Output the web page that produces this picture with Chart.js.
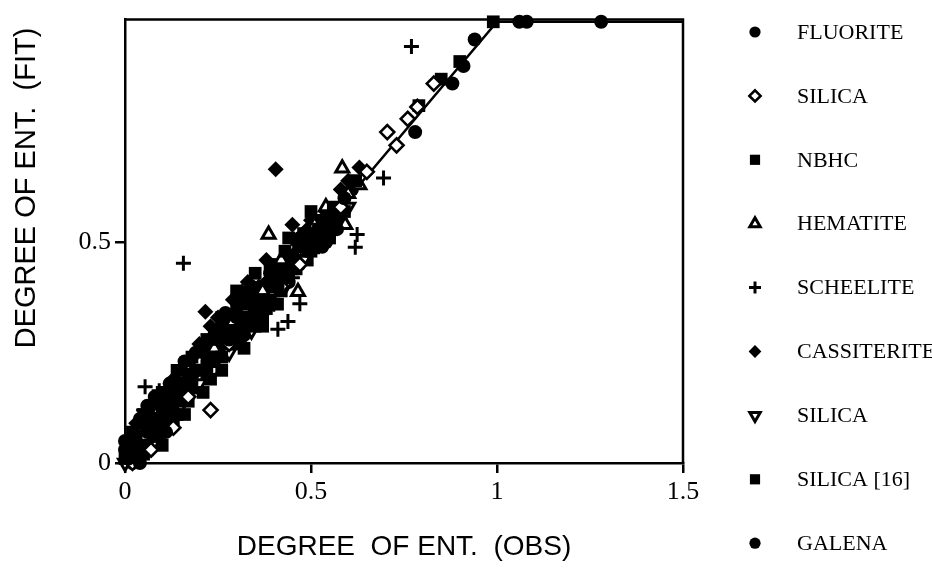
<!DOCTYPE html>
<html>
<head>
<meta charset="utf-8">
<script src="https://cdn.jsdelivr.net/npm/chart.js@4.4.1/dist/chart.umd.min.js"></script>
<style>
  body { margin: 0; background: #fff; }
  #wrap { width: 932px; height: 569px; position: relative; }
</style>
</head>
<body>
<div id="wrap"><canvas id="chart"></canvas></div>
<script>
// DATA  (x = degree of ent. observed, y = degree of ent. fitted)
const xTicks = [0, 0.5, 1, 1.5];
const yTicks = [0, 0.5];

const fluorite = [[0.01,0.01],[0.03,0.02],[0.06,0.07],[0.10,0.11],[0.15,0.17],[0.21,0.26],[0.26,0.31],[0.30,0.33],
  [0.35,0.36],[0.39,0.43],[0.45,0.47],[0.50,0.52],[0.52,0.50],[0.55,0.55],[0.59,0.60],[0.78,0.75],[0.88,0.86],[0.91,0.90],[0.94,0.96],
  [0.0,0.03],[0.02,0.06],[0.04,0.00],[0.08,0.10],[0.11,0.07],[0.13,0.15],[0.17,0.20],[0.23,0.23],[0.28,0.28],[0.32,0.29],
  [0.37,0.34],[0.41,0.40],[0.47,0.51],[0.51,0.49],[0.53,0.52],[0.54,0.50],[0.57,0.53],
  [0.04,0.10],[0.06,0.13],[0.08,0.15],[0.12,0.18],[0.16,0.23],[0.19,0.25],[0.24,0.29],[0.27,0.34],[0.31,0.37],[0.34,0.40]];
const silica = [[0.23,0.12],[0.13,0.08],[0.705,0.75],[0.786,0.807],[0.83,0.86],[0.02,0.0],[0.07,0.03],[0.17,0.15],
  [0.28,0.27],[0.42,0.40],[0.47,0.45],[0.58,0.58],[0.65,0.66],[0.73,0.72],[0.76,0.78]];
const nbhc = [[0.99,1.0],[0.90,0.91],[0.0,0.01],[0.02,0.04],[0.04,0.03],[0.08,0.09],[0.11,0.13],[0.14,0.14],[0.18,0.19],
  [0.22,0.22],[0.27,0.29],[0.31,0.30],[0.34,0.32],[0.36,0.37],[0.38,0.35],[0.41,0.42],[0.44,0.43],[0.47,0.49],
  [0.50,0.48],[0.53,0.55],[0.57,0.56],[0.62,0.64],
  [0.01,0.02],[0.03,0.05],[0.05,0.02],[0.06,0.08],[0.09,0.06],[0.10,0.12],[0.13,0.10],[0.15,0.18],[0.17,0.14],[0.20,0.21],
  [0.23,0.19],[0.24,0.28],[0.26,0.24],[0.29,0.27],[0.30,0.35],[0.33,0.36],[0.35,0.31],[0.37,0.33],[0.39,0.37],[0.42,0.39],
  [0.43,0.48],[0.46,0.44],[0.48,0.52],[0.51,0.50],[0.52,0.53],[0.55,0.51],[0.56,0.58],[0.59,0.57],
  [0.05,0.11],[0.10,0.16],[0.14,0.21],[0.18,0.24],[0.22,0.28],[0.26,0.33],[0.30,0.39],[0.35,0.43],[0.39,0.45],
  [0.44,0.51],[0.50,0.57],[0.21,0.16],[0.26,0.21],[0.32,0.26],[0.37,0.31],[0.41,0.36],[0.10,0.04],[0.16,0.11]];
const hematite = [[0.386,0.518],[0.584,0.668],[0.592,0.540],[0.465,0.388],[0.02,0.03],[0.05,0.06],[0.09,0.12],[0.12,0.14],
  [0.16,0.20],[0.20,0.23],[0.24,0.26],[0.29,0.32],[0.32,0.35],[0.37,0.39],[0.42,0.46],[0.46,0.48],[0.51,0.54],
  [0.54,0.58],[0.60,0.61],[0.63,0.63]];
const scheelite = [[0.77,0.944],[0.695,0.646],[0.624,0.518],[0.619,0.489],[0.157,0.453],[0.470,0.361],[0.438,0.321],
  [0.411,0.303],[0.054,0.173],[0.092,0.164],[0.01,0.05],[0.03,0.08],[0.05,0.12],[0.07,0.10],[0.09,0.07],[0.13,0.12],
  [0.18,0.16],[0.25,0.24],[0.33,0.31],[0.40,0.36],[0.45,0.42],[0.52,0.49]];
const cassiterite = [[0.405,0.666],[0.216,0.343],[0.314,0.388],[0.25,0.33],[0.29,0.37],[0.36,0.40],[0.02,0.02],[0.06,0.05],
  [0.10,0.09],[0.14,0.16],[0.19,0.22],[0.23,0.25],[0.27,0.30],[0.32,0.33],[0.38,0.41],[0.44,0.47],[0.49,0.53],
  [0.54,0.57],[0.58,0.62],[0.63,0.67],
  [0.01,0.04],[0.04,0.06],[0.07,0.11],[0.08,0.07],[0.12,0.15],[0.16,0.19],[0.18,0.17],[0.21,0.24],[0.25,0.27],[0.28,0.33],
  [0.30,0.31],[0.34,0.38],[0.37,0.36],[0.40,0.44],[0.42,0.43],[0.46,0.50],[0.50,0.55],[0.52,0.51],[0.56,0.55],[0.60,0.64],
  [0.03,0.09],[0.09,0.14],[0.13,0.19],[0.20,0.27],[0.23,0.31],[0.33,0.41],[0.38,0.46],[0.45,0.54]];
const silicaInv = [[0.0,0.0],[0.03,0.01],[0.06,0.04],[0.08,0.05],[0.11,0.08],[0.15,0.13],[0.20,0.18],[0.24,0.21],
  [0.28,0.25],[0.34,0.30],[0.39,0.38],[0.43,0.40],[0.48,0.46],[0.52,0.51],[0.56,0.54],[0.60,0.58]];
const silica16 = [[0.01,0.03],[0.04,0.01],[0.07,0.08],[0.12,0.11],[0.17,0.18],[0.22,0.20],[0.26,0.27],[0.31,0.28],
  [0.35,0.34],[0.40,0.39],[0.45,0.44],[0.50,0.50],[0.55,0.52],[0.79,0.81],[0.85,0.87],
  [0.02,0.07],[0.05,0.09],[0.06,0.03],[0.09,0.10],[0.11,0.16],[0.14,0.11],[0.16,0.16],[0.19,0.17],[0.21,0.25],[0.24,0.23],
  [0.29,0.30],[0.33,0.33],[0.38,0.38],[0.41,0.44],[0.46,0.47],[0.49,0.46],[0.52,0.55]];
const galena = [[1.06,1.0],[1.08,1.0],[1.28,1.0],[0.02,0.0],[0.05,0.04],[0.12,0.10],[0.19,0.21],[0.33,0.34],
  [0.43,0.45],[0.48,0.50],[0.56,0.53],[0.61,0.62],
  [0.0,0.05],[0.03,0.03],[0.07,0.06],[0.09,0.13],[0.14,0.12],[0.16,0.15],[0.22,0.21],[0.27,0.26],[0.31,0.32],[0.36,0.35],
  [0.40,0.39],[0.44,0.41],[0.49,0.48],[0.53,0.49],[0.55,0.53],[0.58,0.55]];
const fitLine = [[0,0],[1,1],[1.5,1]];

const seriesNames = ["FLUORITE", "SILICA", "NBHC", "HEMATITE", "SCHEELITE", "CASSITERITE", "SILICA", "SILICA [16]", "GALENA"];
const seriesData = [fluorite, silica, nbhc, hematite, scheelite, cassiterite, silicaInv, silica16, galena];

// marker looks, one per series
const styles = [
  { pointStyle: "circle", radius: 7, fill: "#000", bw: 0, rot: 0 },
  { pointStyle: "rectRot", radius: 7, fill: "#fff", bw: 2.6, rot: 0 },
  { pointStyle: "rect", radius: 9, fill: "#000", bw: 0, rot: 0 },
  { pointStyle: "triangle", radius: 7.5, fill: "#fff", bw: 3, rot: 0 },
  { pointStyle: "cross", radius: 7.5, fill: "#000", bw: 3, rot: 0 },
  { pointStyle: "rectRot", radius: 8, fill: "#000", bw: 0, rot: 0 },
  { pointStyle: "triangle", radius: 7.5, fill: "#fff", bw: 3, rot: 180 },
  { pointStyle: "rect", radius: 9, fill: "#000", bw: 0, rot: 0 },
  { pointStyle: "circle", radius: 7, fill: "#000", bw: 0, rot: 0 }
];

const toXY = arr => arr.map(p => ({ x: p[0], y: p[1] }));

const datasets = seriesData.map((d, i) => ({
  type: "scatter",
  label: seriesNames[i],
  data: toXY(d),
  pointStyle: styles[i].pointStyle,
  pointRadius: styles[i].radius,
  pointRotation: styles[i].rot,
  pointBackgroundColor: styles[i].fill,
  pointBorderColor: "#000",
  pointBorderWidth: styles[i].bw,
  clip: false
}));

datasets.push({
  type: "line",
  label: "fit",
  data: toXY(fitLine),
  borderColor: "#000",
  borderWidth: 2.5,
  pointRadius: 0,
  fill: false,
  clip: false,
  order: 10
});

const serif = "'Liberation Serif', 'Times New Roman', serif";
const sans = "'Liberation Sans', Arial, sans-serif";

// top + right border of the box
const boxPlugin = {
  id: "box",
  beforeDatasetsDraw(chart) {
    const { ctx, chartArea: a } = chart;
    ctx.save();
    ctx.strokeStyle = "#000";
    ctx.lineWidth = 2.5;
    ctx.beginPath();
    ctx.moveTo(a.left, a.top);
    ctx.lineTo(a.right, a.top);
    ctx.lineTo(a.right, a.bottom);
    ctx.stroke();
    ctx.restore();
  }
};

// legend column on the right
const legendPlugin = {
  id: "sideLegend",
  afterDraw(chart) {
    const ctx = chart.ctx;
    ctx.save();
    ctx.font = "22px " + serif;
    ctx.textBaseline = "middle";
    ctx.textAlign = "left";
    seriesNames.forEach((name, i) => {
      const y = 32 + i * 63.9;
      const s = styles[i];
      ctx.fillStyle = s.fill;
      ctx.strokeStyle = "#000";
      ctx.lineWidth = s.bw;
      Chart.helpers.drawPoint(ctx, {
        pointStyle: s.pointStyle, radius: s.radius * 0.8, rotation: s.rot, borderWidth: s.bw
      }, 755, y);
      ctx.fillStyle = "#000";
      ctx.fillText(name, 797, y + 1);
    });
    ctx.restore();
  }
};

const ctx = document.getElementById("chart").getContext("2d");

const chart = new Chart(ctx, {
  data: { datasets: datasets },
  options: {
    responsive: true,
    maintainAspectRatio: false,
    animation: false,
    layout: { padding: { left: 0, top: 15, right: 249, bottom: 0 } },
    plugins: {
      legend: { display: false },
      tooltip: { enabled: false }
    },
    scales: {
      x: {
        type: "linear",
        min: 0,
        max: 1.5,
        afterBuildTicks: s => { s.ticks = xTicks.map(v => ({ value: v })); },
        afterFit: s => { s.height = 106; },
        ticks: { color: "#000", font: { family: serif, size: 26 }, padding: 4, callback: v => String(v) },
        grid: { drawOnChartArea: false, drawTicks: true, tickLength: 10, color: "#000", lineWidth: 2.5 },
        border: { display: true, color: "#000", width: 2.5 },
        title: { display: true, text: "DEGREE  OF ENT.  (OBS)", color: "#000",
                 font: { family: sans, size: 28 }, padding: { top: 0, bottom: 5 } }
      },
      y: {
        type: "linear",
        min: 0,
        max: 1.005,
        afterBuildTicks: s => { s.ticks = yTicks.map(v => ({ value: v })); },
        afterFit: s => { s.width = 125; },
        ticks: { color: "#000", font: { family: serif, size: 26 }, padding: 4, callback: v => String(v) },
        grid: { drawOnChartArea: false, drawTicks: true, tickLength: 10, color: "#000", lineWidth: 2.5 },
        border: { display: true, color: "#000", width: 2.5 },
        title: { display: true, text: "DEGREE OF ENT.  (FIT) ", color: "#000", align: "end",
                 font: { family: sans, size: 29 }, padding: { top: 10, bottom: 0 } }
      }
    }
  },
  plugins: [boxPlugin, legendPlugin]
});
</script>
</body>
</html>
